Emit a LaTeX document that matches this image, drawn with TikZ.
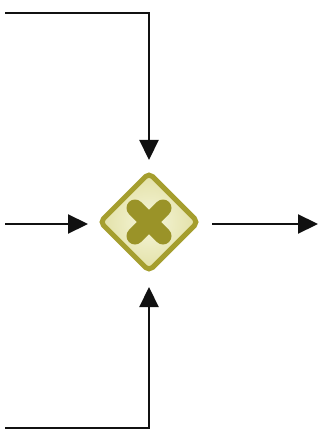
\documentclass[tikz,border=0pt]{standalone}
\usetikzlibrary{arrows.meta,shapes.geometric}
\definecolor{gwline}{HTML}{A59E2E}
\definecolor{gwcross}{HTML}{9A9328}
\definecolor{gwin}{HTML}{F6F6DA}
\definecolor{gwout}{HTML}{E2E0A6}
\definecolor{flow}{HTML}{111111}
\tikzset{
  flowline/.style={draw=flow, line width=2.2pt, -{Triangle[length=20pt,width=19pt]}},
  gateway/.style={diamond, aspect=1, minimum width=100pt, minimum height=100pt, inner sep=0pt,
    draw=gwline, line width=5pt, rounded corners=5pt, inner color=gwin, outer color=gwout},
  crossarm/.style={draw=gwcross, line width=17pt, line cap=round}
}
\begin{document}
\begin{tikzpicture}[x=1pt,y=-1pt]
\useasboundingbox (0,0) rectangle (321,430);
\node[gateway] (g) at (149,222) {};
\draw[crossarm] ([shift={(-14,-14)}]g.center) -- ([shift={(14,14)}]g.center);
\draw[crossarm] ([shift={(-14,14)}]g.center) -- ([shift={(14,-14)}]g.center);
\coordinate (tl) at (5,13);
\coordinate (l) at (5,224);
\coordinate (r) at (318,224);
\coordinate (bl) at (5,428);
\draw[flowline, shorten >=9.5pt] (tl) -| (g);
\draw[flowline, shorten >=8.5pt] (l) -- (l -| g.west);
\draw[flowline, shorten <=10.5pt] (g.east |- r) -- (r);
\draw[flowline, shorten >=12.5pt] (bl) -| (g);
\end{tikzpicture}
\end{document}
